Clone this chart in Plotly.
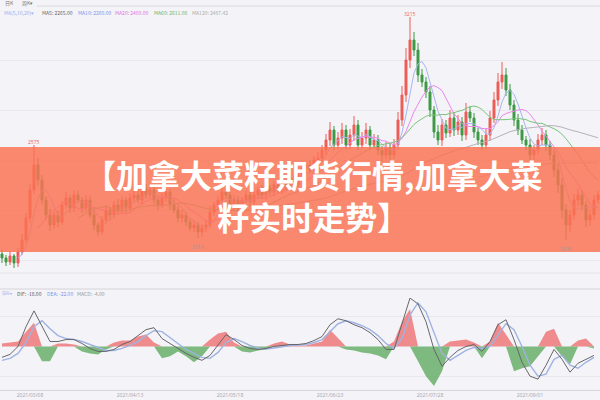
import plotly.graph_objects as go
from plotly.subplots import make_subplots
import pandas as pd

# ---------------- data ----------------
closes = [
    2010, 1990, 2020, 1985, 2040, 2100, 2210, 2350, 2475, 2400,
    2300, 2225, 2175, 2225, 2190, 2275, 2310, 2260, 2325, 2300,
    2260, 2300, 2225, 2175, 2140, 2200, 2250, 2225, 2275, 2250,
    2300, 2260, 2310, 2325, 2300, 2360, 2325, 2350, 2300, 2275,
    2310, 2340, 2275, 2250, 2210, 2225, 2190, 2160, 2175, 2140,
    2160, 2175, 2240, 2275, 2300, 2340, 2325, 2275, 2300, 2260,
    2300, 2325, 2290, 2325, 2350, 2325, 2360, 2340, 2375, 2350,
    2390, 2370, 2410, 2380, 2425, 2460, 2475, 2450, 2500, 2510,
    2550, 2600, 2650, 2575, 2610, 2650, 2575, 2625, 2675, 2575,
    2610, 2650, 2575, 2600, 2550, 2525, 2560, 2525, 2575, 2700,
    2825, 3000, 3100, 3050, 2925, 2890, 2840, 2750, 2640, 2600,
    2675, 2635, 2710, 2650, 2690, 2625, 2740, 2710, 2640, 2600,
    2575, 2625, 2710, 2800, 2890, 2925, 2850, 2775, 2700, 2650,
    2600, 2575, 2525, 2550, 2600, 2625, 2575, 2525, 2450, 2375,
    2250, 2175, 2225, 2300, 2325, 2275, 2200, 2225, 2300, 2325,
]
opens = [
    2030, 2010, 1990, 2020, 1985, 2040, 2100, 2210, 2350, 2475,
    2400, 2300, 2225, 2175, 2225, 2190, 2275, 2310, 2260, 2325,
    2300, 2260, 2300, 2225, 2175, 2140, 2200, 2250, 2225, 2275,
    2250, 2300, 2260, 2310, 2325, 2300, 2360, 2325, 2350, 2300,
    2275, 2310, 2340, 2275, 2250, 2210, 2225, 2190, 2160, 2175,
    2140, 2160, 2175, 2240, 2275, 2300, 2340, 2325, 2275, 2300,
    2260, 2300, 2325, 2290, 2325, 2350, 2325, 2360, 2340, 2375,
    2350, 2390, 2370, 2410, 2380, 2425, 2460, 2475, 2450, 2500,
    2510, 2550, 2600, 2650, 2575, 2610, 2650, 2575, 2625, 2675,
    2575, 2610, 2650, 2575, 2600, 2550, 2525, 2560, 2525, 2575,
    2700, 2825, 3000, 3100, 3050, 2925, 2890, 2840, 2750, 2640,
    2600, 2675, 2635, 2710, 2650, 2690, 2625, 2740, 2710, 2640,
    2600, 2575, 2625, 2710, 2800, 2890, 2925, 2850, 2775, 2700,
    2650, 2600, 2575, 2525, 2550, 2600, 2625, 2575, 2525, 2450,
    2375, 2250, 2175, 2225, 2300, 2325, 2275, 2200, 2225, 2300,
]
wick_hi = [
    20, 15, 25, 10, 20, 30, 25, 30, 100, 35,
    25, 20, 30, 15, 25, 20, 30, 15, 25, 20,
    15, 25, 20, 30, 15, 20, 25, 15, 20, 30,
    20, 15, 25, 20, 30, 15, 20, 25, 20, 15,
    25, 20, 15, 30, 20, 25, 15, 20, 25, 15,
    20, 25, 30, 15, 20, 25, 20, 15, 25, 20,
    15, 20, 25, 20, 15, 25, 20, 15, 20, 25,
    20, 15, 25, 20, 30, 20, 15, 25, 20, 30,
    25, 30, 40, 20, 30, 35, 25, 30, 45, 25,
    30, 35, 20, 30, 25, 20, 30, 25, 30, 40,
    45, 60, 115, 40, 35, 30, 25, 30, 20, 35,
    30, 25, 40, 30, 35, 25, 45, 30, 25, 20,
    25, 30, 35, 40, 45, 65, 35, 30, 25, 30,
    25, 20, 30, 25, 30, 35, 25, 20, 25, 30,
    35, 30, 25, 30, 35, 25, 20, 30, 25, 20,
]
wick_lo = [
    25, 20, 15, 25, 20, 15, 20, 25, 20, 30,
    20, 25, 30, 20, 25, 15, 20, 25, 20, 15,
    25, 20, 15, 25, 20, 15, 20, 25, 15, 20,
    20, 25, 15, 20, 15, 25, 20, 15, 20, 25,
    15, 20, 25, 15, 20, 25, 20, 15, 20, 30,
    25, 20, 15, 20, 25, 15, 20, 25, 15, 20,
    20, 15, 25, 20, 15, 20, 25, 15, 20, 15,
    20, 25, 15, 20, 15, 20, 25, 15, 20, 25,
    20, 25, 30, 25, 20, 30, 25, 20, 30, 25,
    20, 30, 25, 20, 25, 30, 20, 25, 20, 25,
    30, 35, 40, 30, 35, 25, 30, 35, 30, 25,
    30, 25, 20, 30, 25, 30, 25, 20, 30, 25,
    25, 20, 30, 25, 30, 35, 30, 25, 30, 25,
    20, 25, 30, 25, 20, 25, 30, 25, 35, 40,
    45, 75, 35, 25, 30, 25, 35, 30, 25, 20,
]
# MACD pane, read every second bar
dif = [
    -22, -16, 0, 40, 72, 40, 10, 10, 14, 14,
    6, -4, -10, -10, -6, 4, 10, 22, 34, 38,
    16, 6, -4, -14, -22, -28, -18, 2, 24, 14,
    2, -4, -6, -4, 0, 2, 4, 4, 6, 12,
    20, 44, 56, 52, 44, 38, 28, 14, -6, -6,
    44, 98, 86, 50, -6, -40, -22, -8, 0, 4,
    -10, 10, 44, 54, 14, -32, -60, -66, -38, -6,
    -26, -52, -34, -26, -18,
]
dea = [
    -28, -24, -14, 8, 40, 52, 36, 22, 16, 14,
    10, 4, -3, -8, -8, -4, 2, 10, 22, 32,
    30, 18, 6, -6, -14, -22, -24, -12, 8, 16,
    10, 2, -3, -5, -3, 0, 2, 3, 4, 8,
    14, 30, 46, 52, 48, 42, 34, 22, 6, -4,
    16, 64, 88, 70, 28, -14, -28, -18, -8, -2,
    -4, 0, 24, 46, 34, 0, -38, -60, -56, -26,
    -18, -38, -44, -32, -22,
]
hist = [
    6, 8, 10, 30, 48, -30, -30, 6, 6, 4,
    -10, -14, -16, -6, 8, 12, 12, 20, 24, 8,
    -24, -20, -10, -20, -32, -20, 14, 26, 30, 8,
    -10, -12, -8, -6, 6, 10, 4, 2, 2, 6,
    10, 34, 18, -6, -8, -12, -14, -18, -26, 10,
    50, 76, -30, -60, -80, -50, 10, 12, 14, 8,
    -24, 10, 48, 24, -50, -44, -40, -20, 30, 36,
    -20, -36, 12, 16, -4,
]
tick_idx = [7, 32, 57, 82, 107, 132]
tick_labels = ["2021/03/08", "2021/04/13", "2021/05/18",
               "2021/06/23", "2021/07/28", "2021/09/01"]
title_text = "【加拿大菜籽期货行情,加拿大菜<br>籽实时走势】"

# ---------------- derived ----------------
n = min(len(closes), len(opens), len(wick_hi), len(wick_lo))
idx = list(range(n))
highs = [max(opens[i], closes[i]) + wick_hi[i] for i in idx]
lows = [min(opens[i], closes[i]) - wick_lo[i] for i in idx]
s = pd.Series(closes[:n], dtype=float)
ma = {p: s.rolling(p).mean() for p in (5, 10, 20, 60, 120)}
m = min(len(dif), len(dea), len(hist))
mx = [2 * k for k in range(m)]

W, H = 600, 400
def py(px):  # pixel row -> paper y
    return 1 - px / H
def pxx(px):
    return px / W

BG = "#f4f4f8"
fig = make_subplots(rows=2, cols=1, shared_xaxes=True)

fig.add_trace(go.Candlestick(
    x=idx, open=opens[:n], high=highs, low=lows, close=closes[:n],
    increasing=dict(line=dict(color="#ef5b57", width=1), fillcolor="#ef5b57"),
    decreasing=dict(line=dict(color="#3d9a45", width=1), fillcolor="#3d9a45"),
    whiskerwidth=0, showlegend=False, hoverinfo="skip"), row=1, col=1)

ma_colors = {5: "#a9b5f0", 10: "#ee86ec", 20: "#7cc47c", 60: "#b4b4b8", 120: "#c8c8cc"}
for p, col in ma_colors.items():
    fig.add_trace(go.Scatter(x=idx, y=ma[p], mode="lines",
                             line=dict(color=col, width=1), showlegend=False,
                             hoverinfo="skip"), row=1, col=1)

pos = [max(h, 0) for h in hist[:m]]
neg = [min(h, 0) for h in hist[:m]]
fig.add_trace(go.Scatter(x=mx, y=pos, mode="lines", fill="tozeroy",
                         line=dict(width=0, color="rgba(0,0,0,0)"),
                         fillcolor="rgba(238,112,112,0.8)", showlegend=False,
                         hoverinfo="skip"), row=2, col=1)
fig.add_trace(go.Scatter(x=mx, y=neg, mode="lines", fill="tozeroy",
                         line=dict(width=0, color="rgba(0,0,0,0)"),
                         fillcolor="rgba(96,170,96,0.8)", showlegend=False,
                         hoverinfo="skip"), row=2, col=1)
fig.add_trace(go.Scatter(x=mx, y=dea[:m], mode="lines",
                         line=dict(color="#9fb3e0", width=1.4), showlegend=False,
                         hoverinfo="skip"), row=2, col=1)
fig.add_trace(go.Scatter(x=mx, y=dif[:m], mode="lines",
                         line=dict(color="#66666c", width=1), showlegend=False,
                         hoverinfo="skip"), row=2, col=1)

fig.update_layout(
    width=W, height=H, margin=dict(l=0, r=0, t=0, b=0),
    paper_bgcolor=BG, plot_bgcolor=BG, showlegend=False,
    xaxis=dict(range=[-0.5, n - 0.5], showticklabels=False, showgrid=False,
               zeroline=False, rangeslider=dict(visible=False)),
    xaxis2=dict(range=[-0.5, n - 0.5], tickvals=tick_idx, ticktext=tick_labels,
                tickfont=dict(size=5, color="#a8a8b0", family="Noto Sans"),
                showgrid=False, zeroline=False, showline=True,
                linecolor="#d6d6dc", ticks="", ticklen=0),
    yaxis=dict(domain=[py(273), py(14)], range=[1935, 3230], showticklabels=False,
               gridcolor="#e8e8ee", dtick=250, zeroline=False),
    yaxis2=dict(domain=[py(390), py(298)], range=[-88, 98], showticklabels=False,
                tickvals=[-60, 60], gridcolor="#e8e8ee", zeroline=False),
)

shapes = [
    dict(type="line", xref="paper", yref="paper", x0=pxx(37), x1=1,
         y0=py(6), y1=py(6), line=dict(color="#d8d8de", width=1)),
    dict(type="line", xref="paper", yref="paper", x0=0, x1=1,
         y0=py(273), y1=py(273), line=dict(color="#e2e2e8", width=1)),
    dict(type="line", xref="paper", yref="paper", x0=0, x1=1,
         y0=py(289), y1=py(289), line=dict(color="#d2d2d8", width=1)),
    dict(type="rect", xref="paper", yref="paper", x0=0, x1=1,
         y0=py(252), y1=py(147), fillcolor="rgba(250,114,84,0.84)",
         line=dict(width=0), layer="above"),
]
fig.update_layout(shapes=shapes)

ann = []
def small(txt, x, y, color, size=5):
    ann.append(dict(text=txt, x=pxx(x), y=py(y), xref="paper", yref="paper",
                    xanchor="left", yanchor="middle", showarrow=False,
                    font=dict(size=size, color=color, family="Noto Sans CJK SC")))

small("日K", 3, 3, "#777")
small("周K▾", 20, 3, "#777")
small("MA(5,10,20)▾", 2, 12, "#9bb0f0")
small(f"MA5: {ma[5].iloc[-1]:.2f}", 40, 12, "#666")
small(f"MA10: {ma[10].iloc[-1]:.2f}", 76, 12, "#7b93ea")
small(f"MA20: {ma[20].iloc[-1]:.2f}", 113, 12, "#e070e0")
small(f"MA60: {ma[60].iloc[-1]:.2f}", 152, 12, "#6ab36a")
small(f"MA120: {ma[120].iloc[-1]:.2f}", 190, 12, "#aaaaaa")
small("指标▾", 0, 293, "#9bb0f0", size=4)
small(f"DIF: {dif[m-1]:.2f}", 15, 293, "#555")
small(f"DEA: {dea[m-1]:.2f}", 45, 293, "#7b93ea")
small(f"MACD: {hist[m-1]:.2f}", 75, 293, "#999")

# extreme value labels
hi_i = max(idx, key=lambda i: highs[i])
for i, col in ((8, "#ef5b57"), (hi_i, "#ef5b57")):
    ann.append(dict(text=f"{highs[i]:.0f}", x=i, y=highs[i], xref="x", yref="y",
                    yanchor="bottom", showarrow=False, yshift=-2,
                    font=dict(size=5, color=col)))
for i in (49, 141):
    ann.append(dict(text=f"{lows[i]:.0f}", x=i, y=lows[i], xref="x", yref="y",
                    yanchor="top", showarrow=False, yshift=-4,
                    font=dict(size=5, color="#999")))

ann.append(dict(text=f"<b>{title_text}</b>", x=pxx(313), y=py(195),
                xref="paper", yref="paper", xanchor="center", yanchor="middle",
                showarrow=False, align="center",
                font=dict(size=32, color="white", family="Noto Sans CJK SC")))
fig.update_layout(annotations=ann)

fig.write_html("out.html",
               config={"displayModeBar": False, "staticPlot": True},
               post_script="document.body.style.margin='0px';"
                           "document.body.style.overflow='hidden';")
